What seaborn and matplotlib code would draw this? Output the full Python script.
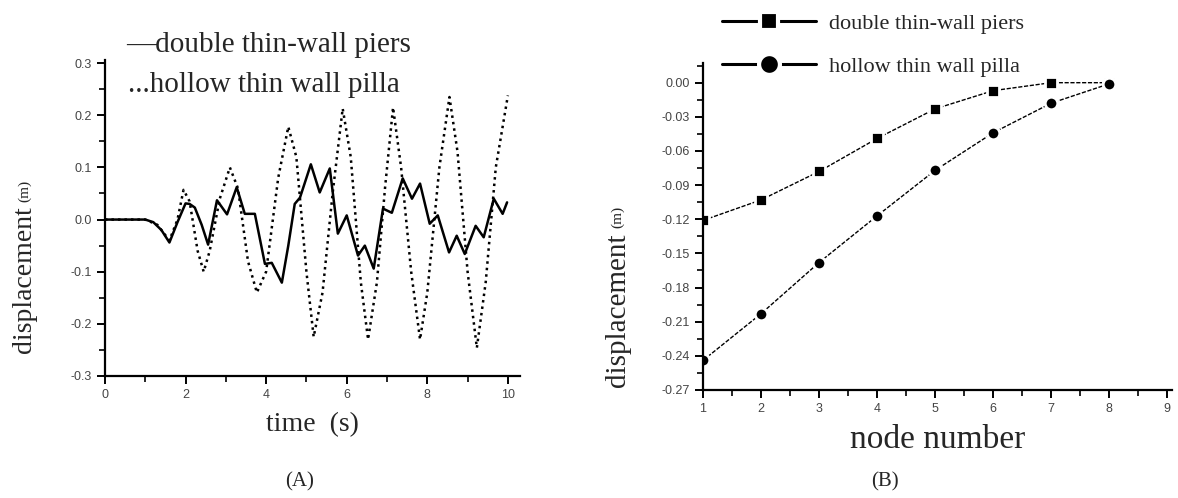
import pandas as pd
import seaborn as sns
import matplotlib.pyplot as plt
from matplotlib.lines import Line2D
from matplotlib.ticker import MultipleLocator

# (A) time history at turning points
time_double = [0, 1.0, 1.2, 1.4, 1.6, 1.8, 2.0, 2.1, 2.23, 2.4, 2.56, 2.78, 3.03, 3.27, 3.47,
               3.72, 3.97, 4.14, 4.39, 4.55, 4.71, 4.84, 5.11, 5.33, 5.58, 5.78, 6.0, 6.28,
               6.45, 6.67, 6.9, 7.12, 7.39, 7.62, 7.82, 8.06, 8.26, 8.54, 8.73, 8.93, 9.2,
               9.4, 9.65, 9.87, 9.98]
disp_double = [0, 0, -0.005, -0.02, -0.044, -0.005, 0.031, 0.03, 0.023, -0.01, -0.048, 0.037,
               0.01, 0.062, 0.011, 0.011, -0.085, -0.083, -0.121, -0.05, 0.03, 0.042, 0.106,
               0.052, 0.098, -0.027, 0.008, -0.069, -0.05, -0.094, 0.021, 0.013, 0.079, 0.04,
               0.069, -0.008, 0.008, -0.063, -0.031, -0.066, -0.012, -0.034, 0.04, 0.011, 0.033]

time_hollow = [0, 1.0, 1.3, 1.6, 1.8, 1.95, 2.1, 2.3, 2.45, 2.6, 2.85, 3.1, 3.3, 3.55, 3.77,
               4.0, 4.3, 4.55, 4.75, 5.0, 5.18, 5.4, 5.65, 5.9, 6.1, 6.35, 6.53, 6.75, 6.95,
               7.15, 7.35, 7.6, 7.82, 8.0, 8.3, 8.55, 8.75, 9.0, 9.23, 9.45, 9.7, 10.0]
disp_hollow = [0, 0, -0.01, -0.04, 0.0, 0.057, 0.035, -0.06, -0.10, -0.06, 0.04, 0.10, 0.06,
               -0.08, -0.14, -0.10, 0.08, 0.178, 0.12, -0.10, -0.225, -0.14, 0.05, 0.213, 0.12,
               -0.12, -0.23, -0.12, 0.06, 0.215, 0.10, -0.10, -0.23, -0.14, 0.10, 0.235, 0.13,
               -0.10, -0.246, -0.12, 0.10, 0.238]

# (B) displacement along the pier
nodes = [1, 2, 3, 4, 5, 6, 7, 8]
node_double = [-0.121, -0.103, -0.078, -0.049, -0.023, -0.007, 0.0, 0.0]
node_hollow = [-0.244, -0.203, -0.158, -0.117, -0.077, -0.044, -0.018, -0.001]

sns.set_theme(style="ticks")
plt.rcParams["font.family"] = ["Liberation Serif", "DejaVu Serif"]

fig = plt.figure(figsize=(11.78, 4.98), dpi=100)
ax_a = fig.add_axes([0.0891, 0.245, 0.3523, 0.6345])
ax_b = fig.add_axes([0.5968, 0.2169, 0.398, 0.6566])

df_double = pd.DataFrame({"t": time_double, "d": disp_double})
df_hollow = pd.DataFrame({"t": time_hollow, "d": disp_hollow})
sns.lineplot(data=df_hollow, x="t", y="d", ax=ax_a, color="black", lw=1.8, linestyle=(0, (1, 1.6)))
sns.lineplot(data=df_double, x="t", y="d", ax=ax_a, color="black", lw=1.8)

ax_a.set_xlim(0, 10.3)
ax_a.set_ylim(-0.3, 0.306)
ax_a.xaxis.set_minor_locator(MultipleLocator(1))
ax_a.yaxis.set_minor_locator(MultipleLocator(0.05))
ax_a.set_xticks([0, 2, 4, 6, 8, 10])
ax_a.set_xticklabels(["0", "2", "4", "6", "8", "10"])
ax_a.set_yticks([-0.3, -0.2, -0.1, 0.0, 0.1, 0.2, 0.3])
ax_a.set_yticklabels(["-0.3", "-0.2", "-0.1", "0.0", "0.1", "0.2", "0.3"])
ax_a.set_xlabel("time  (s)", fontsize=20, labelpad=8)
ax_a.set_ylabel("")

fig.text(126 / 1178, 1 - 45 / 498, "\u2014double thin-wall piers", fontsize=21, va="center", ha="left")
fig.text(128 / 1178, 1 - 85 / 498, "...hollow thin wall pilla", fontsize=21, va="center", ha="left")
fig.text(25 / 1178, 1 - 280 / 498, "displacement", fontsize=20, rotation=90, va="center", ha="center")
fig.text(25 / 1178, 1 - 191 / 498, "(m)", fontsize=11, rotation=90, va="center", ha="center")

df_nodes = pd.DataFrame({"node": nodes, "double": node_double, "hollow": node_hollow})
sns.lineplot(data=df_nodes, x="node", y="double", ax=ax_b, color="black", lw=1,
             linestyle=(0, (3, 1.2)), marker="s", markersize=8, markeredgecolor="white",
             markeredgewidth=2)
sns.lineplot(data=df_nodes, x="node", y="hollow", ax=ax_b, color="black", lw=1,
             linestyle=(0, (3, 1.2)), marker="o", markersize=9, markeredgecolor="white",
             markeredgewidth=2)

ax_b.set_xlim(1, 9.08)
ax_b.set_ylim(-0.27, 0.0173)
ax_b.xaxis.set_major_locator(MultipleLocator(1))
ax_b.xaxis.set_minor_locator(MultipleLocator(0.5))
yt = [0.0, -0.03, -0.06, -0.09, -0.12, -0.15, -0.18, -0.21, -0.24, -0.27]
ax_b.set_yticks(yt)
ax_b.set_yticklabels([f"{v:.2f}" for v in yt])
ax_b.yaxis.set_minor_locator(MultipleLocator(0.015))
ax_b.set_xlabel("node number", fontsize=24, labelpad=7)
ax_b.set_ylabel("")
fig.text(618 / 1178, 1 - 310 / 498, "displacement", fontsize=21, rotation=90, va="center", ha="center")
fig.text(618 / 1178, 1 - 217 / 498, "(m)", fontsize=11, rotation=90, va="center", ha="center")

handles = [
    Line2D([], [], color="black", lw=2.2, marker="s", markersize=13,
           markeredgecolor="white", markeredgewidth=3),
    Line2D([], [], color="black", lw=2.2, marker="o", markersize=15,
           markeredgecolor="white", markeredgewidth=3),
]
fig.legend(handles, ["double thin-wall piers", "hollow thin wall pilla"], loc="upper left",
           bbox_to_anchor=(709 / 1178, 1.0), frameon=False, fontsize=16, handlelength=4.2,
           handletextpad=0.6, labelspacing=1.0, borderaxespad=0.2)

for ax in (ax_a, ax_b):
    sns.despine(ax=ax)
    for s in ("left", "bottom"):
        ax.spines[s].set_linewidth(1.6)
        ax.spines[s].set_color("black")
    ax.tick_params(which="major", direction="out", length=6, width=1.4, color="black",
                   labelsize=9, labelcolor="#444444")
    ax.tick_params(which="minor", direction="out", length=4, width=1.2, color="black")
    for lab in ax.get_xticklabels() + ax.get_yticklabels():
        lab.set_fontfamily("Liberation Sans")

fig.text(300 / 1178, 1 - 482 / 498, "(A)", fontsize=15, ha="center", va="center")
fig.text(885 / 1178, 1 - 482 / 498, "(B)", fontsize=15, ha="center", va="center")

fig.savefig("out.png", dpi=100)
